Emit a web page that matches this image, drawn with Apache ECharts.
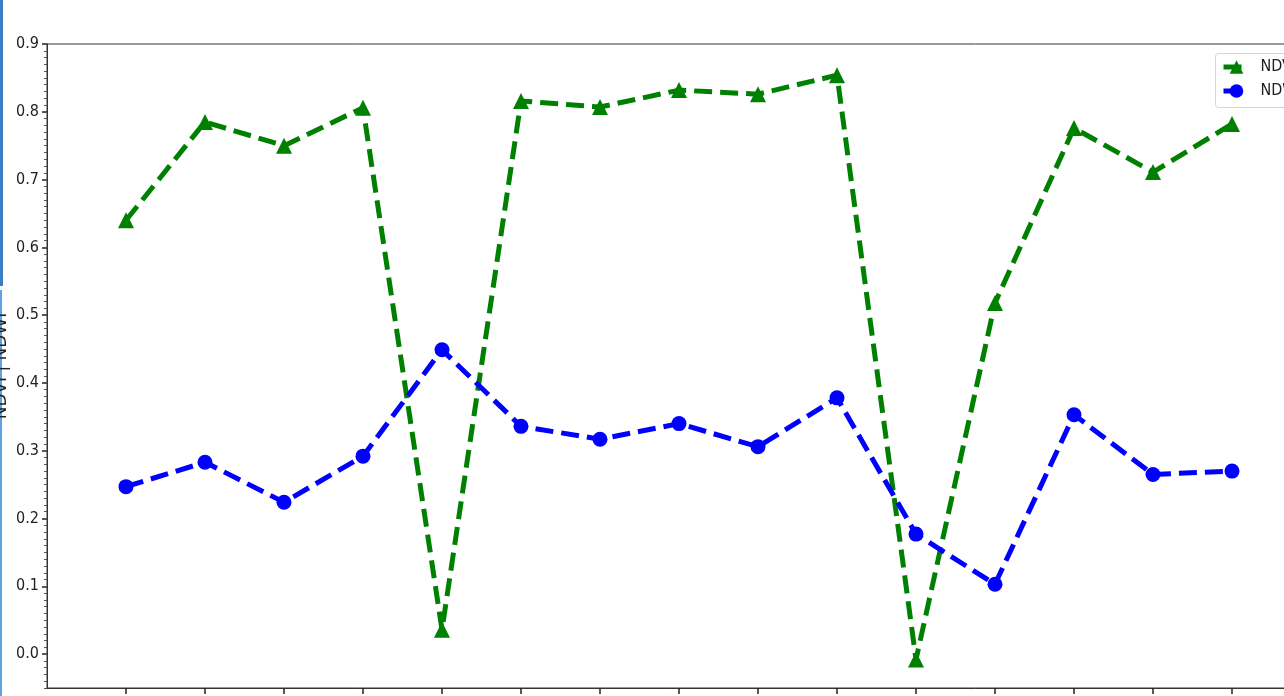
<!DOCTYPE html>
<html>
<head>
<meta charset="utf-8">
<script src="https://cdn.jsdelivr.net/npm/echarts@6/dist/echarts.min.js"></script>
<style>
  html, body { margin: 0; padding: 0; background: #fff; }
  #chart { width: 1284px; height: 696px; }
</style>
</head>
<body>
<div id="chart"></div>
<script>
// index of each acquisition, 0..14
const xIndex = [0, 1, 2, 3, 4, 5, 6, 7, 8, 9, 10, 11, 12, 13, 14];
const ndvi = [0.64, 0.785, 0.75, 0.806, 0.036, 0.816, 0.807, 0.832, 0.826, 0.854, -0.008, 0.518, 0.776, 0.711, 0.782];
const ndwi = [0.247, 0.283, 0.224, 0.292, 0.449, 0.336, 0.317, 0.340, 0.306, 0.378, 0.177, 0.103, 0.353, 0.265, 0.270];
const yTicks = [0.0, 0.1, 0.2, 0.3, 0.4, 0.5, 0.6, 0.7, 0.8, 0.9];

const font = 'DejaVu Sans Condensed, DejaVu Sans, sans-serif';

function toPairs(vals) {
    return xIndex.map((x, i) => [x, vals[i]]);
}

const chart = echarts.init(document.getElementById('chart'), null, { renderer: 'canvas' });

const options = {
    animation: false,
    backgroundColor: '#fff',
    grid: {
        left: 47,
        top: 44,
        right: -27,
        bottom: 8,
        outerBoundsMode: 'none',
        containLabel: false,
        show: true,
        borderColor: '#333',
        borderWidth: 1,
        backgroundColor: 'transparent'
    },
    legend: {
        orient: 'vertical',
        left: 1216,
        top: 55,
        padding: [4, 5, 4, 5],
        itemGap: 8,
        itemWidth: 26,
        itemHeight: 17,
        borderWidth: 0,
        lineStyle: { width: 5 },
        textStyle: { fontSize: 16, color: '#222', fontFamily: font, padding: [0, 0, 0, 6] },
        data: ['NDVI', 'NDWI']
    },
    graphic: [
        { type: 'rect', left: 0, top: 0, shape: { width: 3, height: 286 }, style: { fill: '#3a7cc6' }, silent: true },
        { type: 'rect', left: 0, top: 290, shape: { width: 2, height: 406 }, style: { fill: '#5ea4e2' }, silent: true },
        // legend frame, runs off the right edge like the cropped original
        { type: 'rect', left: 1215, top: 53, z: -1, shape: { width: 120, height: 54, r: 3 }, style: { fill: '#fff', stroke: '#d4d4d4', lineWidth: 1 }, silent: true }
    ],
    xAxis: {
        type: 'value',
        min: -1,
        max: 15,
        interval: 1,
        axisLine: { show: true, onZero: false, lineStyle: { color: '#333', width: 1 } },
        axisTick: { show: true, length: 6, inside: false, customValues: xIndex, lineStyle: { color: '#222', width: 1.5 } },
        axisLabel: { show: false },
        splitLine: { show: false }
    },
    yAxis: [
        {
            type: 'value',
            min: -0.05,
            max: 0.9,
            name: 'NDVI | NDWI',
            nameLocation: 'middle',
            nameRotate: 90,
            nameGap: 37,
            nameMoveOverlap: false,
            nameTextStyle: { fontSize: 17, color: '#222', fontFamily: 'DejaVu Sans, sans-serif' },
            axisLine: { show: true, onZero: false, lineStyle: { color: '#333', width: 1 } },
            axisTick: { show: true, length: 5, customValues: yTicks, lineStyle: { color: '#222', width: 1.5 } },
            axisLabel: {
                show: true,
                customValues: yTicks,
                margin: 8,
                fontSize: 16,
                color: '#222',
                fontFamily: font,
                formatter: v => v.toFixed(1)
            },
            splitLine: { show: false }
        },
        {
            // minor ticks only
            type: 'value',
            position: 'left',
            min: -0.05,
            max: 0.9,
            interval: 0.01,
            axisLine: { show: false, onZero: false },
            axisTick: { show: true, length: 3, lineStyle: { color: '#555', width: 1 } },
            axisLabel: { show: false },
            splitLine: { show: false }
        }
    ],
    series: [
        {
            name: 'NDVI',
            type: 'line',
            data: toPairs(ndvi),
            symbol: 'triangle',
            symbolSize: 16,
            itemStyle: { color: '#008000' },
            lineStyle: { color: '#008000', width: 5, type: [18, 8] },
            z: 2
        },
        {
            name: 'NDWI',
            type: 'line',
            data: toPairs(ndwi),
            symbol: 'circle',
            symbolSize: 15,
            itemStyle: { color: '#0000ff' },
            lineStyle: { color: '#0000ff', width: 5, type: [18, 8] },
            z: 3
        }
    ]
};

chart.setOption(options);
</script>
</body>
</html>
